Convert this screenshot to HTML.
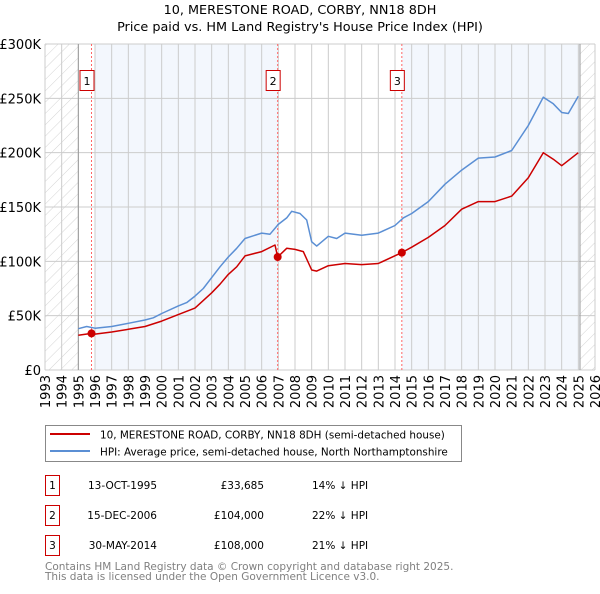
<!DOCTYPE html>
<html><head><meta charset="utf-8">
<style>
body{margin:0;background:#fff;font-family:"DejaVu Sans","Liberation Sans",sans-serif;}
svg text{font-family:"DejaVu Sans","Liberation Sans",sans-serif;}
</style></head>
<body>
<svg id="chart" width="600" height="590" viewBox="0 0 600 590" xmlns="http://www.w3.org/2000/svg">
<defs>
<pattern id="hatch" width="8" height="8" patternUnits="userSpaceOnUse" patternTransform="rotate(45)">
<line x1="0" y1="0" x2="0" y2="8" stroke="#d4d4d4" stroke-width="1"/>
</pattern>
</defs>
<text x="300" y="14" text-anchor="middle" font-size="12.8" fill="#000">10, MERESTONE ROAD, CORBY, NN18 8DH</text>
<text x="300" y="31" text-anchor="middle" font-size="12.8" fill="#000">Price paid vs. HM Land Registry's House Price Index (HPI)</text>
<g id="plot"></g>
<g>
<rect x="45.5" y="425.5" width="416" height="36" fill="#fff" stroke="#888"/>
<line x1="50" y1="434" x2="90" y2="434" stroke="#cc0000" stroke-width="2"/>
<text x="100" y="438.5" font-size="10.4">10, MERESTONE ROAD, CORBY, NN18 8DH (semi-detached house)</text>
<line x1="50" y1="451" x2="90" y2="451" stroke="#5b8fd4" stroke-width="2"/>
<text x="100" y="455.5" font-size="10.4">HPI: Average price, semi-detached house, North Northamptonshire</text>
</g>
<g font-size="10.5">
<g>
<rect x="45.5" y="475.5" width="14" height="20" fill="#fff" stroke="#cc0000"/><text x="52.5" y="489" text-anchor="middle">1</text>
<text x="157" y="489" text-anchor="end">13-OCT-1995</text><text x="264" y="489" text-anchor="end">£33,685</text><text x="312" y="489">14% ↓ HPI</text></g>
<g>
<rect x="45.5" y="505.5" width="14" height="20" fill="#fff" stroke="#cc0000"/><text x="52.5" y="519" text-anchor="middle">2</text>
<text x="157" y="519" text-anchor="end">15-DEC-2006</text><text x="264" y="519" text-anchor="end">£104,000</text><text x="312" y="519">22% ↓ HPI</text></g>
<g>
<rect x="45.5" y="535.5" width="14" height="20" fill="#fff" stroke="#cc0000"/><text x="52.5" y="549" text-anchor="middle">3</text>
<text x="157" y="549" text-anchor="end">30-MAY-2014</text><text x="264" y="549" text-anchor="end">£108,000</text><text x="312" y="549">21% ↓ HPI</text></g>
</g>
<text x="45" y="570" font-size="10.5" fill="#808080">Contains HM Land Registry data © Crown copyright and database right 2025.</text>
<text x="45" y="580" font-size="10.5" fill="#808080">This data is licensed under the Open Government Licence v3.0.</text>
</svg>
<script>
const yTicks=[0,50,100,150,200,250,300];
const yTickLabels=["£0","£50K","£100K","£150K","£200K","£250K","£300K"];
const xYears=[1993,1994,1995,1996,1997,1998,1999,2000,2001,2002,2003,2004,2005,2006,2007,2008,2009,2010,2011,2012,2013,2014,2015,2016,2017,2018,2019,2020,2021,2022,2023,2024,2025,2026];
const hpiDates=[1995.0,1995.5,1996.0,1997.0,1998.0,1999.0,1999.5,2000.0,2001.0,2001.5,2002.0,2002.5,2003.0,2003.5,2004.0,2004.5,2005.0,2006.0,2006.5,2007.0,2007.5,2007.8,2008.3,2008.7,2009.0,2009.3,2010.0,2010.5,2011.0,2012.0,2013.0,2014.0,2014.5,2015.0,2016.0,2017.0,2018.0,2019.0,2020.0,2021.0,2022.0,2022.9,2023.5,2024.0,2024.4,2025.0];
const hpiValues=[38,40,38.5,40,43,46,48,52,59,62,68,75,85,95,104,112,121,126,125,134,140,146,144,138,118,114,123,121,126,124,126,133,140,144,155,171,184,195,196,202,225,251,245,237,236,252];
const priceDates=[1995.0,1995.79,1996.0,1997.0,1998.0,1999.0,2000.0,2001.0,2002.0,2003.0,2003.5,2004.0,2004.5,2005.0,2006.0,2006.8,2006.96,2007.5,2008.0,2008.5,2009.0,2009.3,2010.0,2011.0,2012.0,2013.0,2014.41,2015.0,2016.0,2017.0,2018.0,2019.0,2020.0,2021.0,2022.0,2022.9,2023.5,2024.0,2025.0];
const priceValues=[32,33.7,33,35,37.5,40,45,51,57,71,79,88,95,105,109,115,104,112,111,109,92,91,96,98,97,98,108,113,122,133,148,155,155,160,177,200,194,188,200];
const saleLabels=["1","2","3"];
const saleDates=[1995.79,2006.96,2014.41];
const saleValues=[33.685,104,108];

const X0=45,X1=595,Y0=370,Y1=44;
const xs=d=>X0+(d-1993)/(2026-1993)*(X1-X0);
const ys=v=>Y0-v/300*(Y0-Y1);
const NS="http://www.w3.org/2000/svg";
const plot=document.getElementById('plot');
function mk(tag,attrs,parent){const e=document.createElementNS(NS,tag);for(const k in attrs)e.setAttribute(k,attrs[k]);(parent||plot).appendChild(e);return e;}

let r=mk('rect',{x:xs(1996),y:Y1,width:xs(2006.96)-xs(1996),height:Y0-Y1,fill:'#eef3fc',opacity:0.7});


r=mk('rect',{x:xs(2014.41),y:Y1,width:xs(2025.1)-xs(2014.41),height:Y0-Y1,fill:'#eef3fc',opacity:0.7});


r=mk('rect',{x:X0,y:Y1,width:xs(1995)-X0,height:Y0-Y1,fill:'url(#hatch)'});


r=mk('rect',{x:xs(2025.1),y:Y1,width:X1-xs(2025.1),height:Y0-Y1,fill:'url(#hatch)'});



yTicks.forEach((t,i)=>{
  const l=mk('line',{x1:X0,x2:X1,y1:ys(t),y2:ys(t),stroke:'#cccccc','stroke-width':1});
  
  
  const tx=mk('text',{x:X0-4,y:ys(t)+5,'text-anchor':'end','font-size':13,fill:'#000'});
  tx.textContent=yTickLabels[i];
  
  
});
xYears.forEach(yr=>{
  const l=mk('line',{x1:xs(yr),x2:xs(yr),y1:Y1,y2:Y0,stroke:'#cccccc','stroke-width':1});
  
  
  const tx=mk('text',{x:0,y:0,'text-anchor':'end','font-size':13,fill:'#000',transform:`translate(${xs(yr)+5},${Y0+5}) rotate(-90)`});
  tx.textContent=yr;
  
  
});
let b=mk('line',{x1:xs(1995),x2:xs(1995),y1:Y1,y2:Y0,stroke:'#999','stroke-width':1});


b=mk('line',{x1:xs(2025.1),x2:xs(2025.1),y1:Y1,y2:Y0,stroke:'#999','stroke-width':1});



saleDates.forEach((d,i)=>{
  const l=mk('line',{x1:xs(d),x2:xs(d),y1:Y1,y2:Y0,stroke:'#ff6666','stroke-width':1,'stroke-dasharray':'2,2'});
  
  
  const bx=mk('rect',{x:xs(d)-11.5,y:70.5,width:14,height:20,fill:'#fff',stroke:'#cc0000'});
  
  
  const t=mk('text',{x:xs(d)-4.5,y:85,'text-anchor':'middle','font-size':11});
  t.textContent=saleLabels[i];
  
  
});

function path(dates,vals){return dates.map((d,i)=>(i?'L':'M')+xs(d).toFixed(1)+','+ys(vals[i]).toFixed(1)).join(' ');}
let p=mk('path',{d:path(hpiDates,hpiValues),fill:'none',stroke:'#5b8fd4','stroke-width':1.5,'stroke-linejoin':'round'});


p=mk('path',{d:path(priceDates,priceValues),fill:'none',stroke:'#cc0000','stroke-width':1.5,'stroke-linejoin':'round'});


saleDates.forEach((d,i)=>{
  const c=mk('circle',{cx:xs(d),cy:ys(saleValues[i]),r:4,fill:'#cc0000'});
  
  
});
</script>
</body></html>
